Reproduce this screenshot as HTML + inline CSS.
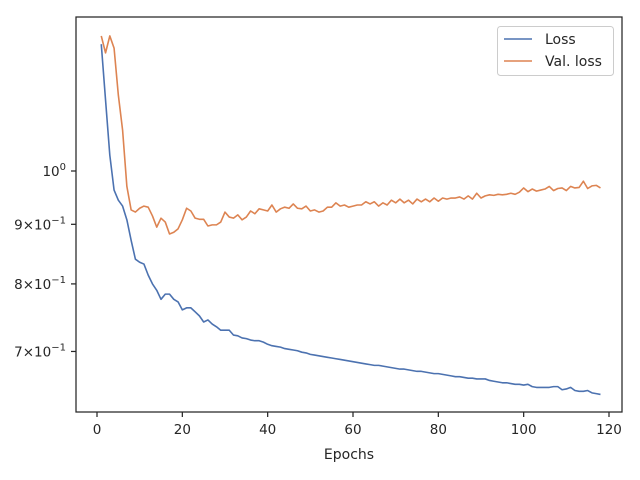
<!DOCTYPE html>
<html><head><meta charset="utf-8"><style>
html,body{margin:0;padding:0;background:#fff;width:640px;height:480px;overflow:hidden}
text{font-family:"DejaVu Sans","Liberation Sans",sans-serif;fill:#262626}
</style></head><body>
<svg id="chart" width="640" height="480" xmlns="http://www.w3.org/2000/svg">
<rect x="76" y="17" width="546" height="395" fill="#fff" stroke="#262626" stroke-width="1.25"/>
<g id="xt"></g>
<g id="yt"></g>
<text x="349" y="459" text-anchor="middle" font-size="14">Epochs</text>
<g id="series"></g>
<g>
<rect x="497.5" y="26.5" width="116" height="49" rx="3" fill="#fff" fill-opacity="0.8" stroke="#ccc"/>
<line x1="504" y1="39" x2="532" y2="39" stroke="#4c72b0" stroke-width="1.6"/>
<text x="545" y="44" font-size="14">Loss</text>
<line x1="504" y1="61" x2="532" y2="61" stroke="#dd8452" stroke-width="1.6"/>
<text x="545" y="66" font-size="14">Val. loss</text>
</g>
</svg>
<script>
const loss=[1.285,1.151,1.032,0.963,0.944,0.933,0.908,0.872,0.840,0.835,0.832,0.814,0.800,0.790,0.776,0.784,0.784,0.776,0.772,0.760,0.763,0.763,0.757,0.751,0.742,0.745,0.739,0.735,0.730,0.730,0.730,0.723,0.722,0.719,0.718,0.716,0.715,0.715,0.713,0.710,
0.708,0.707,0.706,0.704,0.703,0.702,0.701,0.699,0.698,0.696,0.695,0.694,0.693,0.692,0.691,0.690,0.689,0.688,0.687,0.686,0.685,0.684,0.683,0.682,0.681,0.681,0.680,0.679,0.678,0.677,
0.676,0.676,0.675,0.674,0.673,0.673,0.672,0.671,0.670,0.670,0.669,0.668,0.667,0.666,0.666,0.665,0.664,0.664,0.663,0.663,0.663,0.661,0.660,0.659,0.658,0.658,0.657,0.656,0.656,0.655,
0.656,0.653,0.652,0.652,0.652,0.652,0.653,0.653,0.649,0.650,0.652,0.648,0.647,0.647,0.648,0.645,0.644,0.643];
const valLoss=[1.306,1.263,1.306,1.275,1.162,1.084,0.970,0.926,0.922,0.929,0.933,0.931,0.915,0.895,0.911,0.904,0.883,0.886,0.892,0.908,
0.929,0.924,0.911,0.909,0.909,0.897,0.899,0.899,0.904,0.922,0.913,0.911,0.917,0.908,0.913,0.924,0.919,0.928,0.926,0.924,
0.935,0.922,0.928,0.931,0.929,0.937,0.929,0.928,0.933,0.924,0.926,0.922,0.924,0.931,0.931,0.939,0.933,0.935,0.931,0.933,
0.935,0.935,0.941,0.937,0.941,0.933,0.939,0.935,0.944,0.939,0.946,0.939,0.944,0.937,0.946,0.941,0.946,0.941,0.948,0.942,
0.948,0.946,0.948,0.948,0.950,0.946,0.952,0.946,0.957,0.948,0.952,0.954,0.953,0.955,0.954,0.955,0.957,0.955,0.959,0.967,
0.960,0.965,0.961,0.963,0.965,0.970,0.962,0.966,0.967,0.962,0.970,0.967,0.968,0.980,0.966,0.971,0.972,0.967];
const xTicks=[0,20,40,60,80,100,120];
const yTicks=[1,0.9,0.8,0.7];
const yTickLabels=[["10","0"],["9\u00d710","\u22121"],["8\u00d710","\u22121"],["7\u00d710","\u22121"]];
const NS="http://www.w3.org/2000/svg";
function X(e){return 97+e*(512/120);}
function Y(v){return 171-1165*Math.log10(v);}
function mk(t,a,p){const el=document.createElementNS(NS,t);for(const k in a)el.setAttribute(k,a[k]);p.appendChild(el);return el;}
const xt=document.getElementById('xt'),yt=document.getElementById('yt'),sg=document.getElementById('series');
xTicks.forEach(t=>{
 const l=mk('line',{x1:X(t),x2:X(t),y1:412,y2:417,stroke:'#262626','stroke-width':1.25},xt);
 
 
 const tx=mk('text',{x:X(t),y:434,'text-anchor':'middle','font-size':13.5},xt);
 tx.textContent=t;
 
 
});
yTicks.forEach((t,i)=>{
 const l=mk('line',{x1:71,x2:76,y1:Y(t),y2:Y(t),stroke:'#262626','stroke-width':1.25},yt);
 
 
 const tx=mk('text',{x:66,y:Y(t)+5,'text-anchor':'end','font-size':13.5},yt);
 
 
 const a=document.createElementNS(NS,'tspan');a.textContent=yTickLabels[i][0];tx.appendChild(a);
 const b=document.createElementNS(NS,'tspan');b.setAttribute('dy','-6');b.setAttribute('font-size','10');b.textContent=yTickLabels[i][1];tx.appendChild(b);
});
function path(arr,color,name){
 const d=arr.map((v,i)=>(i?'L':'M')+X(i+1).toFixed(2)+','+Y(v).toFixed(2)).join('');
 const p=mk('path',{d:d,fill:'none',stroke:color,'stroke-width':1.6,'stroke-linejoin':'round'},sg);
 
 
}
path(loss,'#4c72b0','loss-line');
path(valLoss,'#dd8452','val-loss-line');
</script>
</body></html>
